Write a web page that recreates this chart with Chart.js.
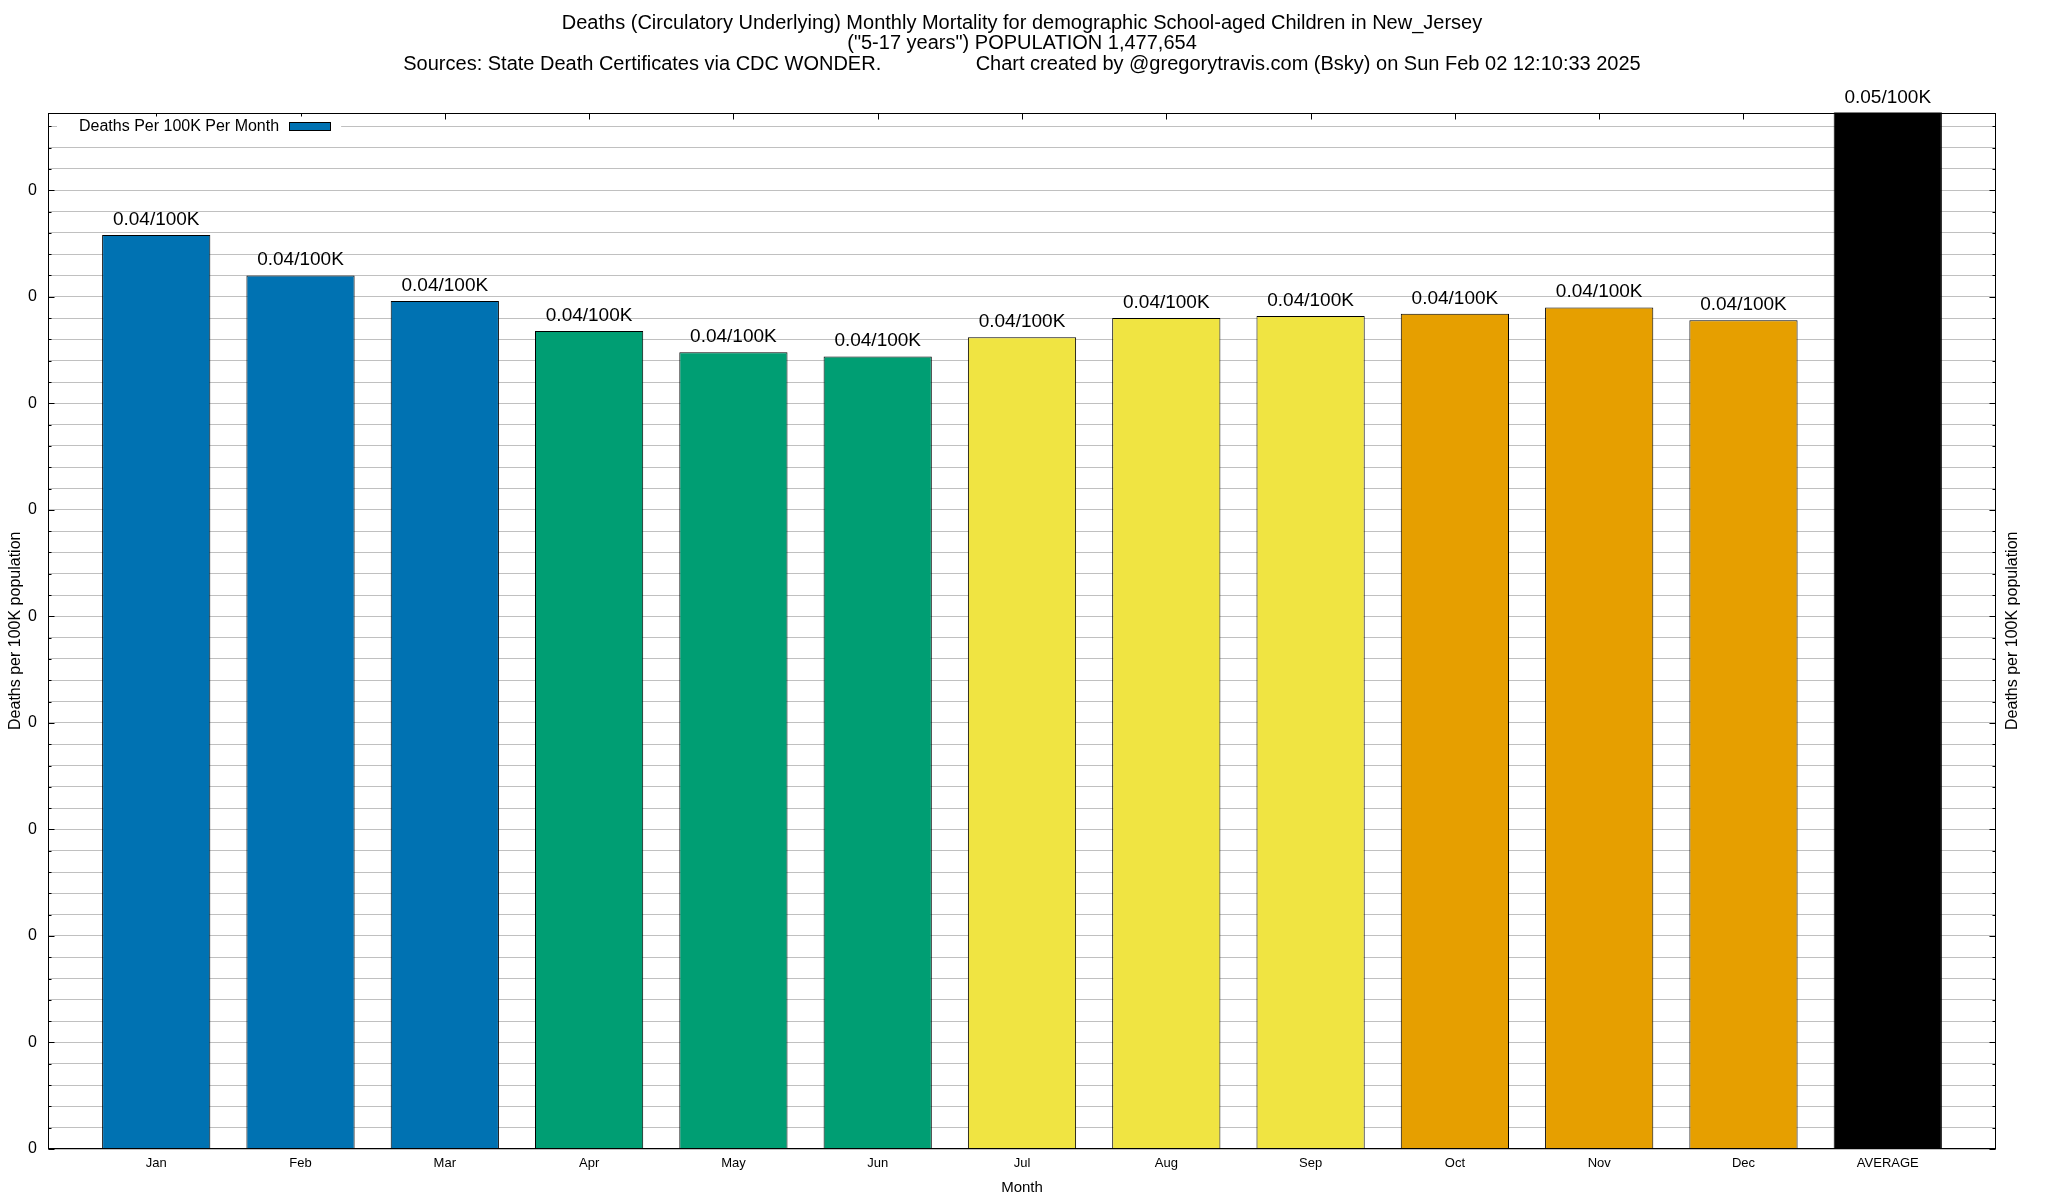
<!DOCTYPE html>
<html>
<head>
<meta charset="utf-8">
<title>Circulatory deaths, school-aged children, New Jersey</title>
<script src="https://cdn.jsdelivr.net/npm/chart.js"></script>
<style>
  html, body { margin: 0; padding: 0; background: #fff; }
  #wrap { width: 2048px; height: 1200px; }
</style>
</head>
<body>
<div id="wrap"><canvas id="mortalityChart"></canvas></div>
<script>
// Data
const months = ['Jan', 'Feb', 'Mar', 'Apr', 'May', 'Jun', 'Jul', 'Aug', 'Sep', 'Oct', 'Nov', 'Dec', 'AVERAGE'];
const deathsPer100k = [0.0429, 0.0410, 0.0398, 0.0384, 0.0374, 0.0372, 0.0381, 0.0390, 0.0391, 0.0392, 0.0395, 0.0389, 0.05];
const barColors = ['#0072B2', '#0072B2', '#0072B2', '#009E73', '#009E73', '#009E73',
                   '#F0E442', '#F0E442', '#F0E442', '#E69F00', '#E69F00', '#E69F00', '#000000'];
const yMajorTicks = [0, 0.005, 0.01, 0.015, 0.02, 0.025, 0.03, 0.035, 0.04, 0.045];

const titleLines = [
    'Deaths (Circulatory Underlying) Monthly Mortality for demographic School-aged Children in New_Jersey',
    '("5-17 years") POPULATION 1,477,654',
    'Sources: State Death Certificates via CDC WONDER.                 Chart created by @gregorytravis.com (Bsky) on Sun Feb 02 12:10:33 2025'
];
const seriesLabel = 'Deaths Per 100K Per Month';
const yTitle = 'Deaths per 100K population';

const FONT = '"Liberation Sans", Arial, Helvetica, sans-serif';

function isMajor(v) {
    return yMajorTicks.some(m => Math.abs(m - v) < 1e-7);
}

// gnuplot-ish frame, inward ticks, key, bar labels and right axis title
const gnuplotDecor = {
    id: 'gnuplotDecor',
    afterDatasetsDraw(chart) {
        const ctx = chart.ctx;
        const area = chart.chartArea;
        const yScale = chart.scales.y;
        const xScale = chart.scales.x;
        const L = Math.round(area.left) + 0.5;
        const R = Math.round(area.right) - 0.5;
        const T = Math.round(area.top) + 0.5;
        const B = Math.round(area.bottom) - 0.5;

        ctx.save();
        ctx.strokeStyle = '#000';
        ctx.lineWidth = 1;

        // y tick marks on both sides
        ctx.beginPath();
        yScale.ticks.forEach(t => {
            const py = Math.round(yScale.getPixelForValue(t.value)) + 0.5;
            const len = isMajor(t.value) ? 6 : 3;
            ctx.moveTo(L, py); ctx.lineTo(L + len, py);
            ctx.moveTo(R, py); ctx.lineTo(R - len, py);
        });
        // x tick marks along the top border
        xScale.ticks.forEach(t => {
            const px = Math.round(xScale.getPixelForValue(t.value)) + 0.5;
            ctx.moveTo(px, T); ctx.lineTo(px, T + 6);
        });
        ctx.stroke();

        // frame
        ctx.strokeRect(L, T, R - L, B - T);

        // key (text first, sample box on the right)
        ctx.font = '16px ' + FONT;
        const keyX = area.left + 31;
        const keyY = area.top + 14;
        const tw = ctx.measureText(seriesLabel).width;
        ctx.fillStyle = '#fff';
        ctx.fillRect(area.left + 9, keyY - 10, tw + 31 + 41 + 12, 20);
        ctx.fillStyle = '#000';
        ctx.textAlign = 'left';
        ctx.textBaseline = 'middle';
        ctx.fillText(seriesLabel, keyX, keyY);
        const sx = Math.round(keyX + tw + 10) + 0.5;
        const sy = Math.round(keyY - 5) + 0.5;
        ctx.fillStyle = barColors[0];
        ctx.fillRect(sx, sy, 41, 8);
        ctx.strokeRect(sx, sy, 41, 8);

        // value labels above bars
        const meta = chart.getDatasetMeta(0);
        ctx.font = '19px ' + FONT;
        ctx.fillStyle = '#000';
        ctx.textAlign = 'center';
        ctx.textBaseline = 'alphabetic';
        meta.data.forEach((bar, i) => {
            const top = Math.max(bar.y, area.top);
            ctx.fillText(deathsPer100k[i].toFixed(2) + '/100K', bar.x, top - 10);
        });

        // right axis title, reading bottom to top like the left one
        ctx.font = '16px ' + FONT;
        ctx.textAlign = 'center';
        ctx.textBaseline = 'middle';
        ctx.translate(2013, (area.top + area.bottom) / 2);
        ctx.rotate(-Math.PI / 2);
        ctx.fillText(yTitle, 0, 0);
        ctx.restore();
    }
};

const ctx = document.getElementById('mortalityChart').getContext('2d');
new Chart(ctx, {
    type: 'bar',
    data: {
        datasets: [{
            label: seriesLabel,
            data: deathsPer100k.map((v, i) => ({ x: i, y: v })),
            backgroundColor: barColors,
            borderColor: '#000',
            borderWidth: 1,
            barPercentage: 0.75,
            categoryPercentage: 1.0
        }]
    },
    options: {
        responsive: true,
        maintainAspectRatio: false,
        animation: false,
        layout: { padding: 0 },
        plugins: {
            legend: { display: false },
            tooltip: { enabled: false },
            title: {
                display: true,
                fullSize: false,
                text: titleLines,
                color: '#000',
                font: { family: FONT, size: 20, weight: 'normal', lineHeight: 1.025 },
                padding: { top: 13, bottom: 38 }
            }
        },
        scales: {
            x: {
                type: 'linear',
                offset: false,
                min: -0.75,
                max: 12.75,
                afterBuildTicks: axis => {
                    axis.ticks = months.map((m, i) => ({ value: i }));
                },
                afterFit: scale => { scale.height = 51; },
                grid: { display: false, drawTicks: false, offset: false },
                border: { display: false },
                ticks: {
                    autoSkip: false,
                    maxRotation: 0,
                    padding: 7,
                    color: '#000',
                    font: { family: FONT, size: 13 },
                    callback: v => months[v]
                },
                title: {
                    display: true,
                    text: 'Month',
                    color: '#000',
                    font: { family: FONT, size: 15 },
                    padding: { top: 0, bottom: 3 }
                }
            },
            y: {
                position: 'left',
                min: 0,
                max: 0.04865,
                afterFit: scale => { scale.width = 48; },
                grid: { color: '#c0c0c0', lineWidth: 1, drawTicks: false },
                border: { display: false },
                ticks: {
                    stepSize: 0.001,
                    includeBounds: false,
                    autoSkip: false,
                    maxTicksLimit: 200,
                    padding: 11,
                    color: '#000',
                    font: { family: FONT, size: 16 },
                    callback: v => isMajor(v) ? v.toFixed(0) : ''
                },
                title: {
                    display: true,
                    text: yTitle,
                    color: '#000',
                    font: { family: FONT, size: 16 },
                    padding: { top: 6, bottom: 0 }
                }
            },
            y2: {
                position: 'right',
                min: 0,
                max: 0.04865,
                afterFit: scale => { scale.width = 52; },
                grid: { display: false, drawTicks: false },
                border: { display: false },
                ticks: { display: false }
            }
        }
    },
    plugins: [gnuplotDecor]
});
</script>
</body>
</html>
